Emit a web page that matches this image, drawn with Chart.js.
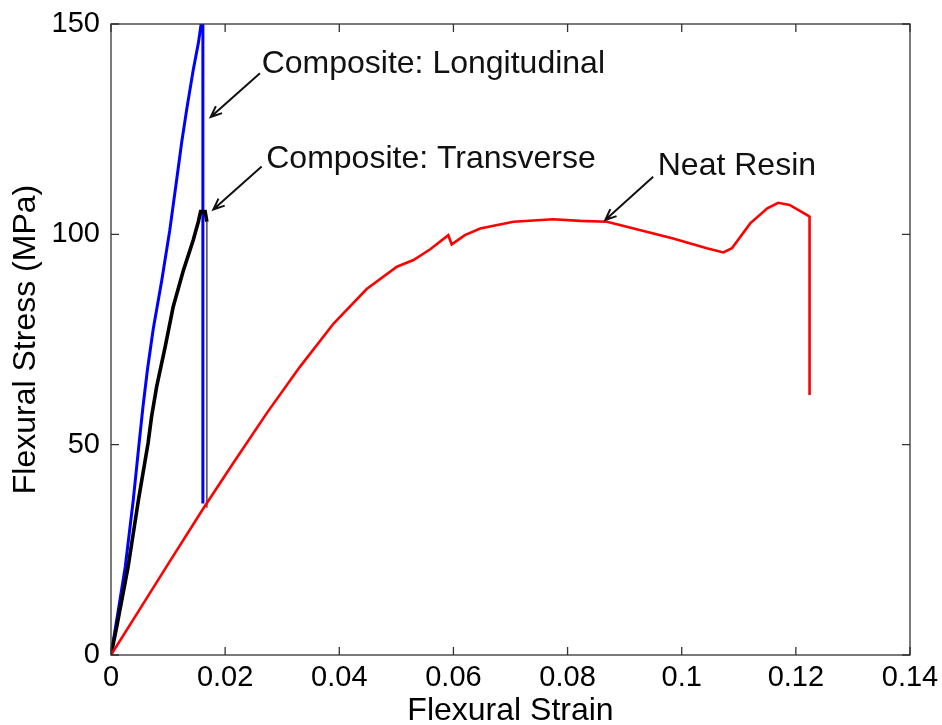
<!DOCTYPE html>
<html>
<head>
<meta charset="utf-8">
<script src="https://cdn.jsdelivr.net/npm/chart.js@4"></script>
<style>
  body { margin: 0; background: #fff; }
</style>
</head>
<body>
<canvas id="myChart" width="942" height="725"></canvas>
<script>
// Composite: Longitudinal
var longStrain = [0, 0.0012, 0.0025, 0.0039, 0.0049, 0.0056, 0.0064, 0.0074, 0.0089, 0.0103, 0.0115, 0.0124, 0.0133, 0.0144, 0.0153, 0.0159, 0.0161, 0.0161];
var longStress = [0, 10, 21, 36.8, 50, 59, 68, 77.5, 89.1, 101, 112.9, 122, 130, 139, 145.4, 151, 151, 36];

// Composite: Transverse
var transStrain = [0, 0.0010, 0.0030, 0.0048, 0.0065, 0.0071, 0.0080, 0.0095, 0.0109, 0.0127, 0.0144, 0.0153, 0.0157, 0.0165, 0.0168, 0.0168];
var transStress = [0, 6.7, 21, 36.8, 50.4, 56.6, 63.8, 73.3, 82.8, 91.5, 98.6, 103, 105.4, 105.4, 103, 35];

// Neat Resin
var resinStrain = [0, 0.0050, 0.0100, 0.0162, 0.0214, 0.0273, 0.0331, 0.0390, 0.0448, 0.0501, 0.0530, 0.0560, 0.0591, 0.0597, 0.0620, 0.0647, 0.0705, 0.0775, 0.0822, 0.0869, 0.0921, 0.0985, 0.1044, 0.1073, 0.1088, 0.1120, 0.1150, 0.1169, 0.1189, 0.1222, 0.1224, 0.1224];
var resinStress = [0, 10.8, 21.6, 34.9, 45.6, 57.5, 68.5, 78.8, 87, 92.3, 93.9, 96.5, 99.8, 97.6, 99.8, 101.4, 103.0, 103.6, 103.2, 103.0, 101.2, 99.0, 96.7, 95.7, 96.7, 102.6, 106.2, 107.5, 107.0, 104.4, 104.2, 61.8];

var xTicks = [0, 0.02, 0.04, 0.06, 0.08, 0.1, 0.12, 0.14];
var xTickLabels = ["0", "0.02", "0.04", "0.06", "0.08", "0.1", "0.12", "0.14"];
var yTicks = [0, 50, 100, 150];
var yTickLabels = ["0", "50", "100", "150"];

// labels with arrow (text anchor, arrow start, arrow tip) in data units
var noteTexts = ["Composite: Longitudinal", "Composite: Transverse", "Neat Resin"];
var noteAt = [[0.0264, 140.5], [0.0272, 117.9], [0.0958, 116.2]];
var arrowFrom = [[0.0261, 138.3], [0.0264, 116.1], [0.0950, 113.7]];
var arrowTo = [[0.01747, 127.9], [0.01793, 105.9], [0.0866, 103.4]];

function toPoints(xs, ys) {
    var pts = [];
    xs.forEach((x, i) => {
        pts.push({ x: x, y: ys[i] });
    });
    return pts;
}

var FONT = "'Liberation Sans', Arial, Helvetica, sans-serif";

// matlab style box + inward ticks
var boxPlugin = {
    id: "box",
    afterDraw: function (chart) {
        var c = chart.ctx;
        var a = chart.chartArea;
        var xs = chart.scales.x;
        var ys = chart.scales.y;
        c.save();
        c.strokeStyle = "#333";
        c.lineWidth = 1.3;
        c.strokeRect(a.left, a.top, a.right - a.left, a.bottom - a.top);
        c.beginPath();
        xTicks.forEach((v) => {
            var px = xs.getPixelForValue(v);
            c.moveTo(px, a.bottom);
            c.lineTo(px, a.bottom - 8);
            c.moveTo(px, a.top);
            c.lineTo(px, a.top + 8);
        });
        yTicks.forEach((v) => {
            var py = ys.getPixelForValue(v);
            c.moveTo(a.left, py);
            c.lineTo(a.left + 8, py);
            c.moveTo(a.right, py);
            c.lineTo(a.right - 8, py);
        });
        c.stroke();
        c.restore();
    },
};

var notePlugin = {
    id: "notes",
    afterDatasetsDraw: function (chart) {
        var c = chart.ctx;
        var xs = chart.scales.x;
        var ys = chart.scales.y;
        c.save();
        c.fillStyle = "#111";
        c.strokeStyle = "#111";
        c.lineWidth = 2;
        c.font = "32px " + FONT;
        c.textBaseline = "middle";
        c.textAlign = "left";
        noteTexts.forEach((t, i) => {
            c.fillText(t, xs.getPixelForValue(noteAt[i][0]), ys.getPixelForValue(noteAt[i][1]));
            var x0 = xs.getPixelForValue(arrowFrom[i][0]);
            var y0 = ys.getPixelForValue(arrowFrom[i][1]);
            var x1 = xs.getPixelForValue(arrowTo[i][0]);
            var y1 = ys.getPixelForValue(arrowTo[i][1]);
            var ang = Math.atan2(y1 - y0, x1 - x0);
            c.beginPath();
            c.moveTo(x0, y0);
            c.lineTo(x1, y1);
            c.moveTo(x1 - 12 * Math.cos(ang - 0.4), y1 - 12 * Math.sin(ang - 0.4));
            c.lineTo(x1, y1);
            c.lineTo(x1 - 12 * Math.cos(ang + 0.4), y1 - 12 * Math.sin(ang + 0.4));
            c.stroke();
        });
        c.restore();
    },
};

function isDrop(ctx) {
    return ctx.p0.parsed.x === ctx.p1.parsed.x;
}

const ctx = document.getElementById("myChart").getContext("2d");
const myChart = new Chart(ctx, {
    type: "line",
    plugins: [boxPlugin, notePlugin],
    data: {
        datasets: [
            {
                label: "Neat Resin",
                data: toPoints(resinStrain, resinStress),
                borderColor: "#ff0000",
                borderWidth: 2.6,
                pointRadius: 0,
                tension: 0,
                clip: 0,
            },
            {
                label: "Composite: Transverse",
                data: toPoints(transStrain, transStress),
                borderColor: "#000",
                borderWidth: 3.6,
                pointRadius: 0,
                tension: 0,
                clip: 0,
                segment: {
                    borderColor: (c) => (isDrop(c) ? "#555" : undefined),
                    borderWidth: (c) => (isDrop(c) ? 1.6 : undefined),
                },
            },
            {
                label: "Composite: Longitudinal",
                data: toPoints(longStrain, longStress),
                borderColor: "#0000ff",
                borderWidth: 3,
                pointRadius: 0,
                tension: 0,
                clip: 0,
            },
        ],
    },
    options: {
        responsive: false,
        animation: false,
        devicePixelRatio: 1,
        layout: {
            padding: { left: 0, top: 24, right: 32, bottom: 0 },
        },
        plugins: {
            legend: { display: false },
            tooltip: { enabled: false },
        },
        scales: {
            x: {
                type: "linear",
                min: 0,
                max: 0.14,
                afterBuildTicks: function (scale) {
                    scale.ticks = xTicks.map((v) => ({ value: v }));
                },
                afterFit: function (scale) {
                    scale.height = 70;
                    scale.paddingLeft = 0;
                    scale.paddingRight = 0;
                },
                grid: { display: false, drawTicks: false },
                border: { display: false },
                ticks: {
                    color: "#000",
                    padding: 6,
                    maxRotation: 0,
                    font: { family: FONT, size: 29 },
                    callback: function (value, index) {
                        return xTickLabels[index];
                    },
                },
                title: {
                    display: true,
                    text: "Flexural Strain",
                    color: "#000",
                    padding: { top: 0, bottom: 0 },
                    font: { family: FONT, size: 32, lineHeight: 0.85 },
                },
            },
            y: {
                min: 0,
                max: 150,
                afterBuildTicks: function (scale) {
                    scale.ticks = yTicks.map((v) => ({ value: v }));
                },
                afterFit: function (scale) {
                    scale.width = 111;
                    scale.paddingTop = 0;
                    scale.paddingBottom = 0;
                },
                grid: { display: false, drawTicks: false },
                border: { display: false },
                ticks: {
                    color: "#000",
                    padding: 11,
                    font: { family: FONT, size: 29 },
                    callback: function (value, index) {
                        return yTickLabels[index];
                    },
                },
                title: {
                    display: true,
                    text: "Flexural Stress (MPa)",
                    color: "#000",
                    padding: { top: 7, bottom: 0 },
                    font: { family: FONT, size: 32 },
                },
            },
        },
    },
});
</script>
</body>
</html>
